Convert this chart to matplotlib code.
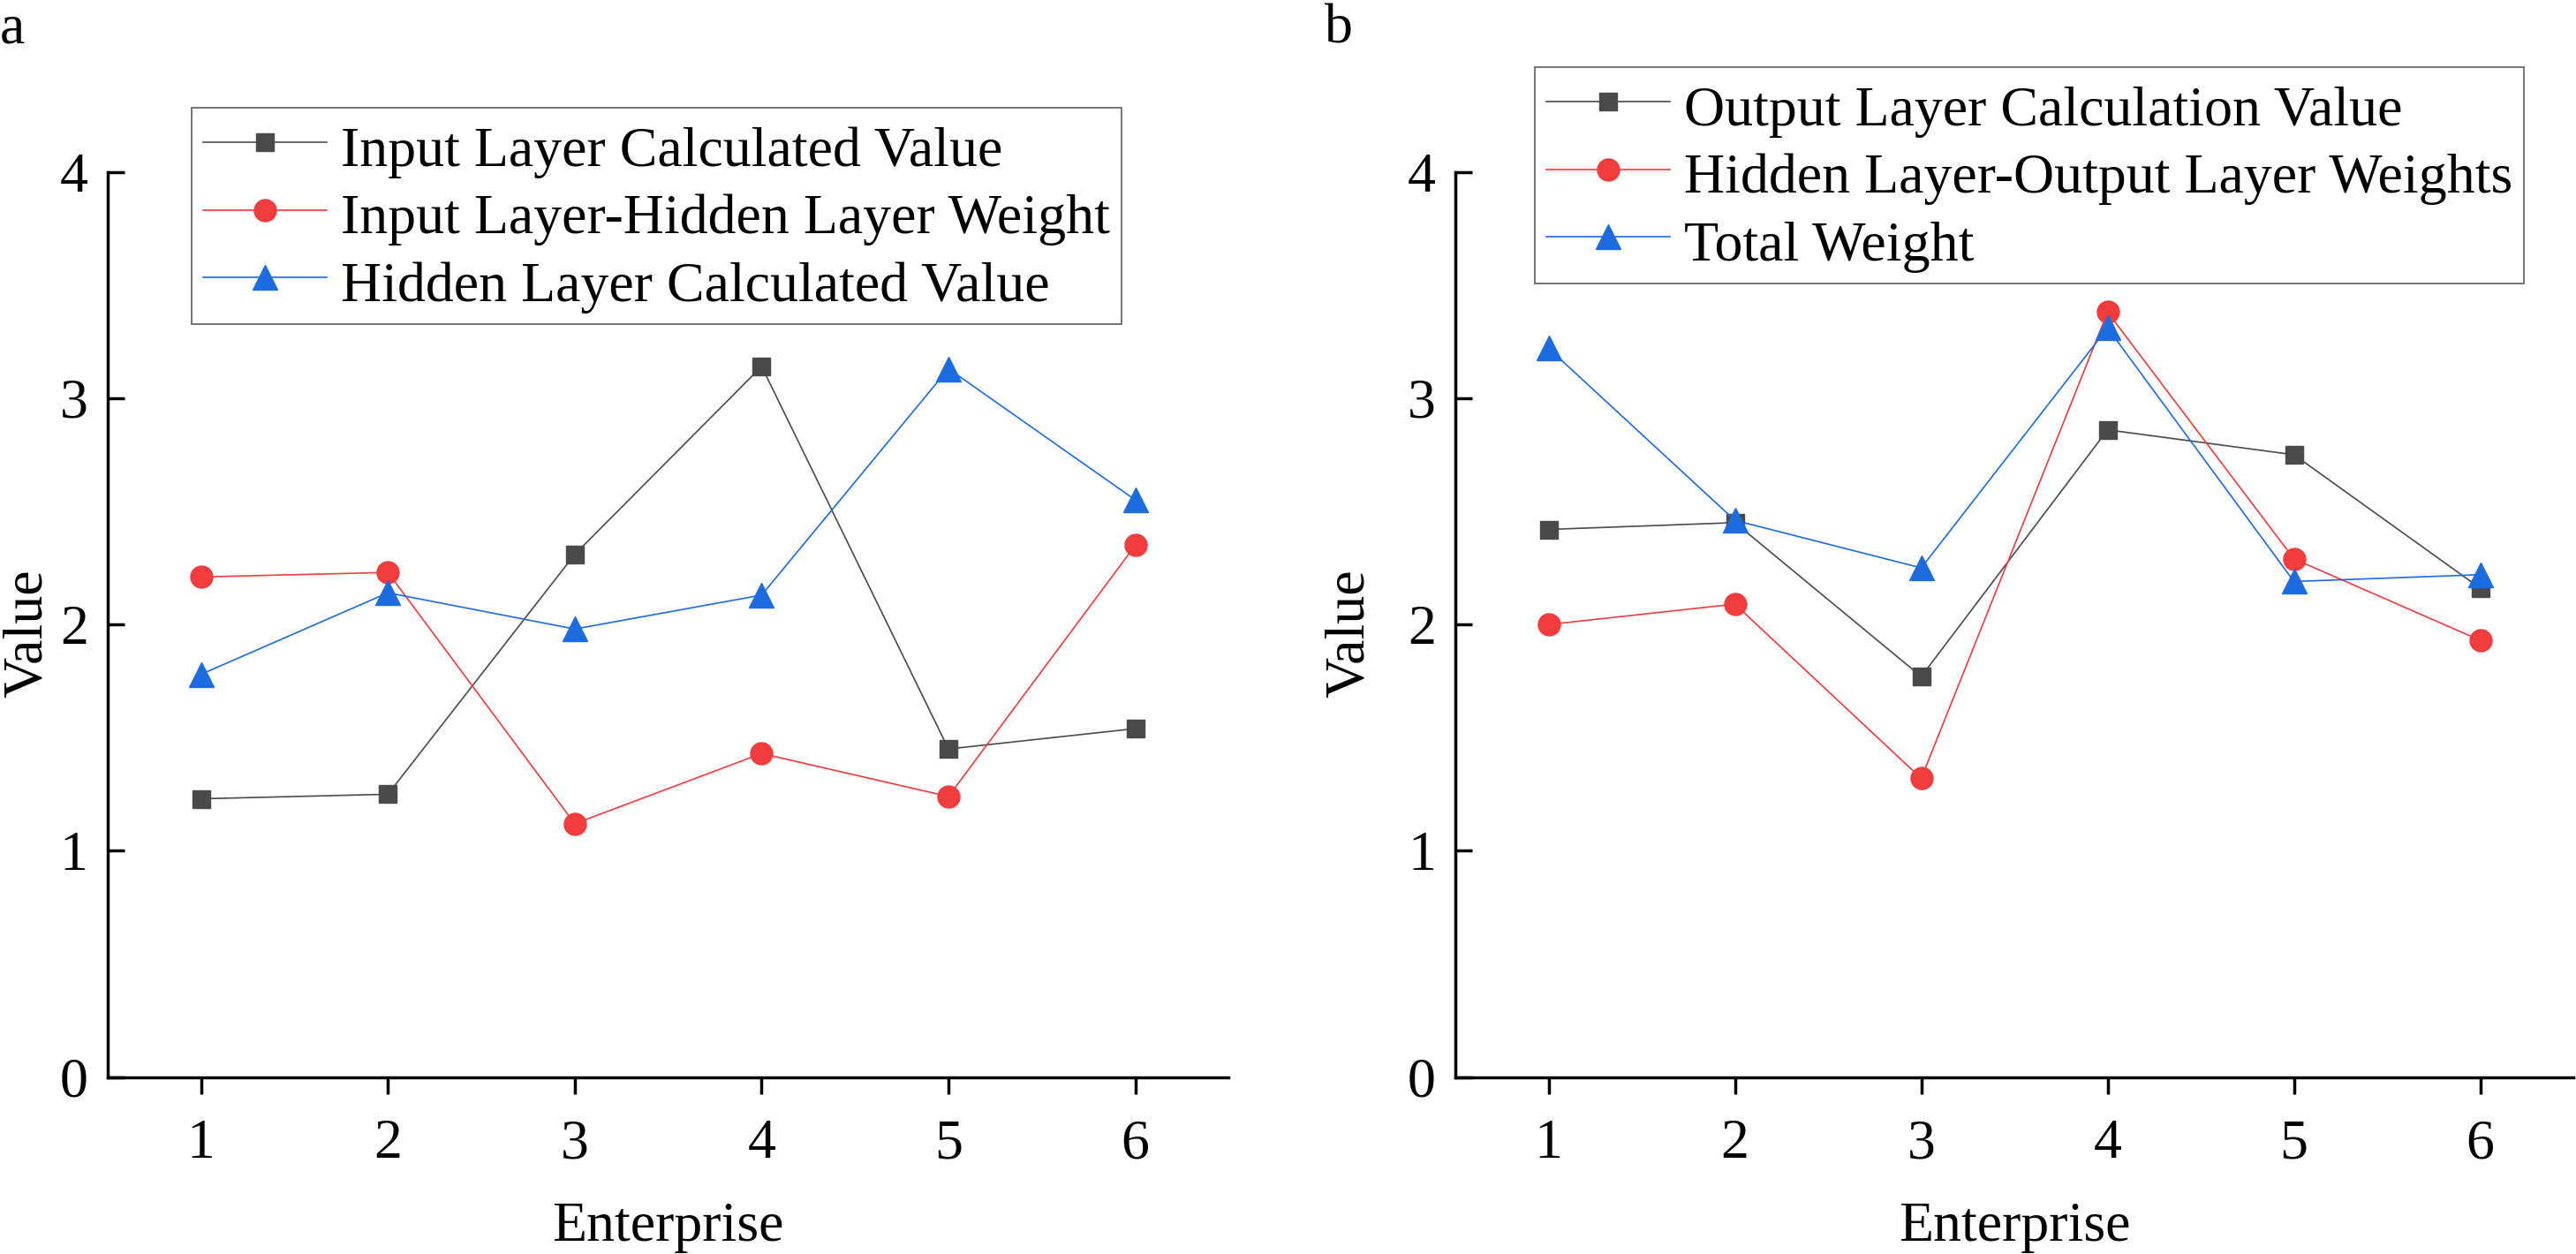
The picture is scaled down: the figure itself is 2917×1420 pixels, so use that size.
import matplotlib
matplotlib.use('Agg')
import matplotlib.pyplot as plt

plt.rcParams['font.family'] = ['Liberation Serif', 'DejaVu Serif']
plt.rcParams['font.size'] = 46

enterprise = [1, 2, 3, 4, 5, 6]

# panel a
input_calc = [1.23, 1.25, 2.31, 3.14, 1.45, 1.54]
input_hidden_w = [2.21, 2.23, 1.12, 1.43, 1.24, 2.35]
hidden_calc = [1.78, 2.14, 1.98, 2.13, 3.13, 2.55]

# panel b
output_calc = [2.42, 2.45, 1.77, 2.86, 2.75, 2.16]
hidden_output_w = [2.00, 2.09, 1.32, 3.38, 2.29, 1.93]
total_w = [3.22, 2.46, 2.25, 3.31, 2.19, 2.22]

labels_a = ['Input Layer Calculated Value', 'Input Layer-Hidden Layer Weight',
            'Hidden Layer Calculated Value']
labels_b = ['Output Layer Calculation Value', 'Hidden Layer-Output Layer Weights',
            'Total Weight']

BLACK = '#4a4a4a'
RED = '#f03c3c'
BLUE = '#1c6ce0'

fig = plt.figure(figsize=(29.17, 14.2), dpi=100)
ax1 = fig.add_axes([0.0418, 0.141, 0.4352, 0.722])
ax2 = fig.add_axes([0.5650, 0.141, 0.4340, 0.722])


def draw(ax, series, labels, anchor, ylab_x):
    styles = [(BLACK, 's', 15), (RED, 'o', 18), (BLUE, '^', 20)]
    for ys, lab, (c, m, ms) in zip(series, labels, styles):
        ax.plot(enterprise, ys, color=c, marker=m, markersize=ms, lw=1.2,
                label=lab)
    ax.set_xlim(0.5, 6.5)
    ax.set_ylim(0, 4)
    ax.set_xticks(enterprise)
    ax.set_yticks([0, 1, 2, 3, 4])
    ax.spines['top'].set_visible(False)
    ax.spines['right'].set_visible(False)
    for s in ['left', 'bottom']:
        ax.spines[s].set_linewidth(2.5)
    ax.tick_params(axis='x', direction='out', length=14, width=2.5,
                   labelsize=46, pad=20)
    ax.tick_params(axis='y', direction='in', length=14, width=2.5,
                   labelsize=46, pad=16)
    ax.set_xlabel('Enterprise', fontsize=46, labelpad=26)
    ax.set_ylabel('Value', fontsize=46)
    ax.yaxis.set_label_coords(ylab_x, 0.49)
    leg = ax.legend(loc='upper left', bbox_to_anchor=anchor,
                    bbox_transform=fig.transFigure, fontsize=46,
                    frameon=True, fancybox=False, borderpad=0.2,
                    labelspacing=0.14, handleheight=1.15,
                    handlelength=2.2, handletextpad=0.25,
                    borderaxespad=0)
    leg.get_frame().set_edgecolor('#333333')
    leg.get_frame().set_linewidth(1.2)


draw(ax1, [input_calc, input_hidden_w, hidden_calc], labels_a,
     (217 / 2917, 1 - 122 / 1420), -0.048)
draw(ax2, [output_calc, hidden_output_w, total_w], labels_b,
     (1738 / 2917, 1 - 76 / 1420), -0.071)

fig.text(0.0, 0.997, 'a', fontsize=46, va='top', ha='left')
fig.text(1500 / 2917, 0.997, 'b', fontsize=46, va='top', ha='left')

fig.savefig('out.png', dpi=100)
